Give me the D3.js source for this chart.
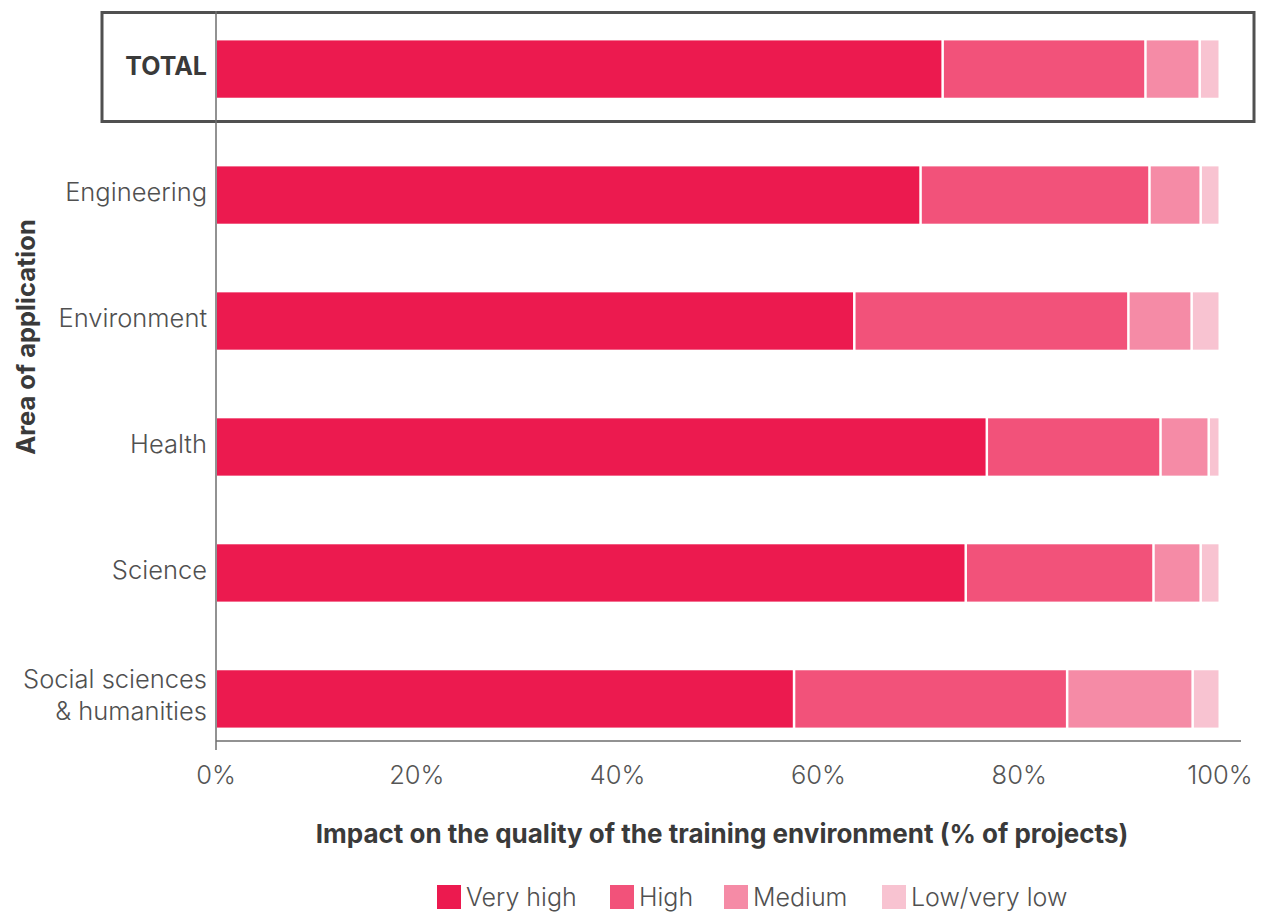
<!DOCTYPE html>
<html>
<head>
<meta charset="utf-8">
<script src="https://cdn.jsdelivr.net/npm/d3@7"></script>
<style>
  body { margin: 0; background: #fff; }
  text { font-family: Inter, "Open Sans", sans-serif; }
</style>
</head>
<body>
<div id="chart-area"></div>
<script>
const MARGIN = { LEFT: 216, RIGHT: 48, TOP: 11, BOTTOM: 172 }
const WIDTH = 1268 - MARGIN.LEFT - MARGIN.RIGHT
const HEIGHT = 913 - MARGIN.TOP - MARGIN.BOTTOM

// Data
const areas = ["TOTAL", "Engineering", "Environment", "Health", "Science", "Social sciences & humanities"]
const levels = ["Very high", "High", "Medium", "Low/very low"]
const veryHigh = [72.4, 70.2, 63.6, 76.8, 74.7, 57.6]
const high = [20.2, 22.8, 27.3, 17.3, 18.7, 27.2]
const medium = [5.4, 5.1, 6.3, 4.8, 4.7, 12.5]
const lowVeryLow = [2.0, 1.9, 2.8, 1.1, 1.9, 2.7]
const colors = ["#ec1a4f", "#f2527a", "#f58ba6", "#f8c3d1"]
const xTicks = [0, 20, 40, 60, 80, 100]

const rows = areas.map((a, i) => ({
    area: a, "Very high": veryHigh[i], "High": high[i], "Medium": medium[i], "Low/very low": lowVeryLow[i]
}))
const stacked = d3.stack().keys(levels)(rows)

const svg = d3.select("#chart-area").append("svg")
    .attr("width", 1268)
    .attr("height", 913)

const g = svg.append("g")
    .attr("transform", `translate(${MARGIN.LEFT}, ${MARGIN.TOP})`)

// Scales
const x = d3.scaleLinear()
    .domain([0, 100])
    .range([0, 1004])

const y = d3.scaleBand()
    .domain(areas)
    .range([8, HEIGHT + 8])
    .paddingInner(0.545)
    .paddingOuter(0.17)

const color = d3.scaleOrdinal().domain(levels).range(colors)

// TOTAL box
g.append("rect")
    .attr("x", -114)
    .attr("y", 1.5)
    .attr("width", 1152)
    .attr("height", 109)
    .attr("fill", "none")
    .attr("stroke", "#505050")
    .attr("stroke-width", 3)

// Bars
g.selectAll(".series")
    .data(stacked)
    .enter().append("g")
    .attr("fill", d => color(d.key))
    .selectAll("rect")
    .data(d => d)
    .enter().append("rect")
    .attr("x", d => x(d[0]) + 1)
    .attr("y", d => y(d.data.area))
    .attr("width", d => Math.max(0, x(d[1]) - x(d[0]) - 2.5))
    .attr("height", y.bandwidth())

// Y axis line
g.append("line")
    .attr("x1", 0).attr("x2", 0)
    .attr("y1", 0).attr("y2", HEIGHT + 9)
    .attr("stroke", "#6e6e6e")
    .attr("stroke-width", 1.5)

// X axis line
g.append("line")
    .attr("x1", 0).attr("x2", 1025)
    .attr("y1", HEIGHT).attr("y2", HEIGHT)
    .attr("stroke", "#6e6e6e")
    .attr("stroke-width", 1.5)

// X tick labels
g.selectAll(".xtick")
    .data(xTicks)
    .enter().append("text")
    .attr("x", d => x(d))
    .attr("y", HEIGHT + 43)
    .attr("text-anchor", "middle")
    .attr("font-size", "25.5px")
    .attr("font-weight", 300)
    .attr("fill", "#555")
    .text(d => d + "%")

// Y category labels
areas.forEach(a => {
    const cy = y(a) + y.bandwidth() / 2
    const t = g.append("text")
        .attr("x", -9)
        .attr("text-anchor", "end")
        .attr("font-size", a === "TOTAL" ? "25px" : "25.5px")
        .attr("font-weight", a === "TOTAL" ? 700 : 300)
        .attr("fill", a === "TOTAL" ? "#3a3a3a" : "#505050")
    if (a === "Social sciences & humanities") {
        t.append("tspan").attr("x", -9).attr("y", cy - 11).text("Social sciences")
        t.append("tspan").attr("x", -9).attr("y", cy + 21).text("& humanities")
    } else {
        t.attr("y", cy + 6).text(a)
    }
})

// Axis titles
g.append("text")
    .attr("x", 506)
    .attr("y", HEIGHT + 102)
    .attr("text-anchor", "middle")
    .attr("font-size", "26px")
    .attr("font-weight", 700)
    .attr("fill", "#3a3a3a")
    .text("Impact on the quality of the training environment (% of projects)")

g.append("text")
    .attr("transform", "rotate(-90)")
    .attr("x", -326)
    .attr("y", -181)
    .attr("text-anchor", "middle")
    .attr("font-size", "25.5px")
    .attr("font-weight", 700)
    .attr("fill", "#3a3a3a")
    .text("Area of application")

// Legend
const legendX = [437, 610, 724, 882]
const legend = svg.append("g")
levels.forEach((l, i) => {
    legend.append("rect")
        .attr("x", legendX[i])
        .attr("y", 885)
        .attr("width", 24)
        .attr("height", 24)
        .attr("fill", color(l))
    legend.append("text")
        .attr("x", legendX[i] + 29)
        .attr("y", 906)
        .attr("font-size", "25px")
        .attr("font-weight", 300)
        .attr("fill", "#505050")
        .text(l)
})
</script>
</body>
</html>
